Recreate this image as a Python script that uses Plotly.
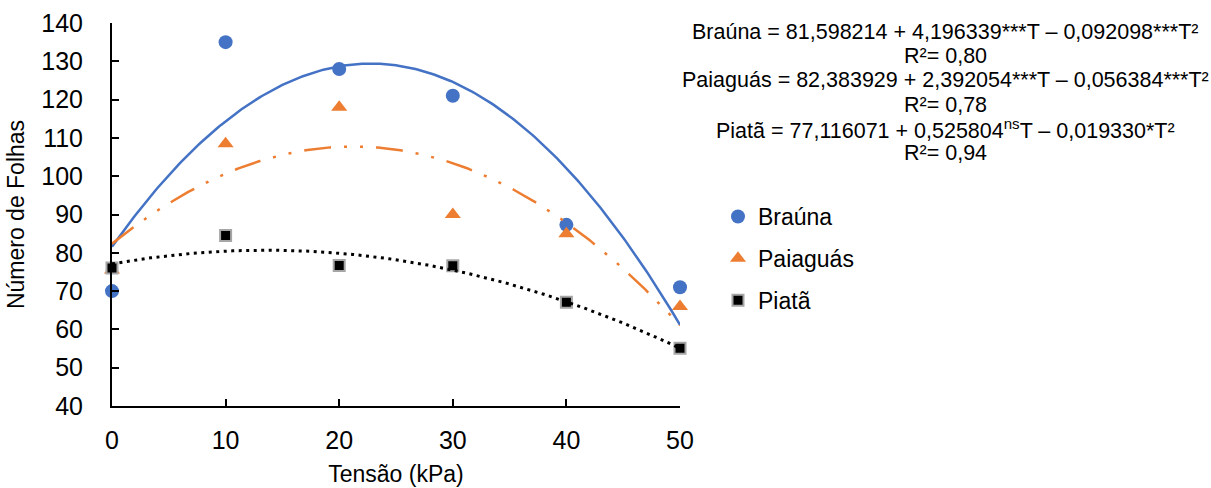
import numpy as np
import plotly.graph_objects as go

# ---- data ----
tensao = [0, 10, 20, 30, 40, 50]
brauna = [70.0, 135.0, 128.0, 121.0, 87.3, 71.0]
paiaguas = [75.5, 108.5, 118.0, 90.0, 85.0, 66.0]
piata = [76.0, 84.5, 76.7, 76.6, 67.1, 55.1]

# quadratic trendline coefficients shown on the chart (c0, c1, c2)
coef_brauna = [81.598214, 4.196339, -0.092098]
coef_paiaguas = [82.383929, 2.392054, -0.056384]
coef_piata = [77.116071, 0.525804, -0.019330]

eq_lines = [
    "Braúna = 81,598214 + 4,196339***T – 0,092098***T²",
    "R²= 0,80",
    "Paiaguás = 82,383929 + 2,392054***T – 0,056384***T²",
    "R²= 0,78",
    "Piatã = 77,116071 + 0,525804<sup>ns</sup>T – 0,019330*T²",
    "R²= 0,94",
]

y_ticks = [40, 50, 60, 70, 80, 90, 100, 110, 120, 130, 140]
x_ticks = [0, 10, 20, 30, 40, 50]

BLUE = "#4472C4"
ORANGE = "#ED7D31"
FONT = "Liberation Sans, Arial, sans-serif"

W, H = 1211, 488
L, R, T, B = 112, 680, 23, 406

fig = go.Figure()

fig.add_trace(go.Scatter(
    x=tensao, y=brauna, mode="markers", name="Braúna",
    marker=dict(symbol="circle", size=14, color=BLUE),
    cliponaxis=False, legendgroup="a"))
fig.add_trace(go.Scatter(
    x=tensao, y=paiaguas, mode="markers", name="Paiaguás",
    marker=dict(symbol="triangle-up", size=14, color=ORANGE),
    cliponaxis=False, legendgroup="b"))
fig.add_trace(go.Scatter(
    x=tensao, y=piata, mode="markers", name="Piatã",
    marker=dict(symbol="square", size=11, color="black",
                line=dict(color="#a6a6a6", width=2)),
    cliponaxis=False, legendgroup="c"))

xs = np.linspace(min(tensao), max(tensao), 251)


def trend(coef):
    return np.polyval(coef[::-1], xs)


fig.add_trace(go.Scatter(x=xs, y=trend(coef_brauna), mode="lines",
                         line=dict(color=BLUE, width=2.5),
                         showlegend=False, hoverinfo="skip"))
fig.add_trace(go.Scatter(x=xs, y=trend(coef_paiaguas), mode="lines",
                         line=dict(color=ORANGE, width=2.5,
                                   dash="27px,13px,3px,13px,3px,13px"),
                         showlegend=False, hoverinfo="skip"))
fig.add_trace(go.Scatter(x=xs, y=trend(coef_piata), mode="lines",
                         line=dict(color="black", width=3, dash="3px,4.5px"),
                         showlegend=False, hoverinfo="skip"))

pw = R - L
ph = B - T


def px_x(p):
    return (p - L) / pw


def px_y(p):
    return (B - p) / ph


line_y = [31.7, 56.0, 80.3, 104.6, 129.0, 153.3]
for txt, yy in zip(eq_lines, line_y):
    fig.add_annotation(text=txt, xref="paper", yref="paper",
                       x=px_x(945), y=px_y(yy), xanchor="center",
                       yanchor="middle", showarrow=False,
                       font=dict(family=FONT, size=21.5, color="black"))

fig.update_layout(
    width=W, height=H,
    margin=dict(l=L, r=W - R, t=T, b=H - B, pad=0, autoexpand=False),
    paper_bgcolor="white", plot_bgcolor="white",
    font=dict(family=FONT, color="black"),
    showlegend=True,
    legend=dict(x=px_x(718), y=px_y(195), xanchor="left", yanchor="top",
                font=dict(family=FONT, size=23, color="black"),
                traceorder="grouped", tracegroupgap=9,
                bgcolor="rgba(0,0,0,0)"),
    xaxis=dict(range=[0, 50], tickvals=x_ticks, ticks="inside", ticklen=7,
               tickwidth=2, tickcolor="black", showline=True,
               linecolor="black", linewidth=2, showgrid=False, zeroline=False,
               automargin=False,
               tickfont=dict(family=FONT, size=25, color="black"),
               ticklabelstandoff=11,
               title=dict(text="Tensão (kPa)", standoff=13,
                          font=dict(family=FONT, size=23, color="black"))),
    yaxis=dict(range=[40, 140], tickvals=y_ticks, ticks="inside", ticklen=7,
               tickwidth=2, tickcolor="black", showline=True,
               linecolor="black", linewidth=2, showgrid=False, zeroline=False,
               automargin=False,
               tickfont=dict(family=FONT, size=25, color="black"),
               ticklabelstandoff=22,
               title=dict(text="Número de Folhas", standoff=10,
                          font=dict(family=FONT, size=23, color="black"))),
)

fig.write_html("out.html",
               config={"displayModeBar": False},
               post_script="document.body.style.margin='0';"
                           "document.body.style.padding='0';")
